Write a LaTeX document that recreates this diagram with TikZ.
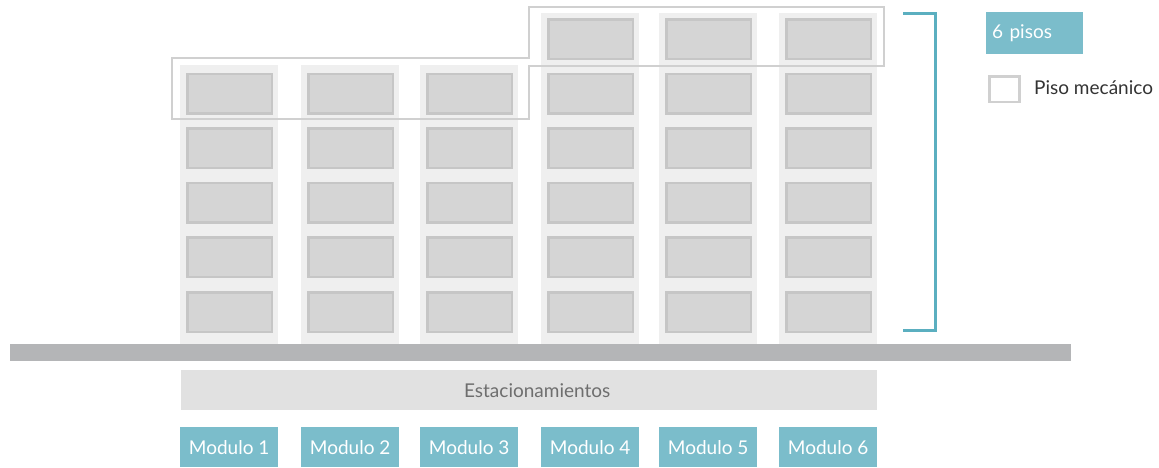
\documentclass[tikz,border=0pt]{standalone}
\usepackage{fontspec}
\setmainfont{Lato}
\definecolor{colbg}{HTML}{EFEFEF}
\definecolor{cellfill}{HTML}{D5D5D5}
\definecolor{cellline}{HTML}{C6C6C6}
\definecolor{mechline}{HTML}{D0D0D0}
\definecolor{ground}{HTML}{B4B5B7}
\definecolor{estac}{HTML}{E1E1E1}
\definecolor{estactext}{HTML}{6E6E6E}
\definecolor{teal}{HTML}{7BBDCB}
\definecolor{bracket}{HTML}{5BAFC0}
\definecolor{legtext}{HTML}{333333}
\begin{document}
\begin{tikzpicture}[x=1pt,y=-1pt,
  txt/.style={font=\fontsize{19}{21}\selectfont},
  colbox/.style={fill=colbg, draw=none, inner sep=0pt, minimum width=98pt, anchor=north west},
  cellbox/.style={fill=cellfill, draw=cellline, line width=2.5pt, inner sep=0pt, minimum width=84.5pt, minimum height=39.5pt},
  modbox/.style={txt, fill=teal, text=white, inner sep=0pt, minimum width=98pt, minimum height=40pt, anchor=north west},
  estbox/.style={txt, fill=estac, text=estactext, inner sep=0pt, minimum width=696pt, minimum height=40pt, anchor=north west},
  legbox/.style={txt, fill=teal, text=white, inner xsep=6pt, inner ysep=0pt, text width=85pt, align=left, minimum height=42pt, anchor=north west},
  mechsq/.style={draw=mechline, line width=2.5pt, inner sep=0pt, minimum width=30pt, minimum height=25.5pt, anchor=north west},
  legtxt/.style={txt, text=legtext, inner sep=0pt, anchor=west},
  mechoutline/.style={draw=mechline, line width=2pt},
  bracketline/.style={draw=bracket, line width=3pt}
]
\useasboundingbox (0,0) rectangle (1159,467);
% ground
\node[fill=ground, inner sep=0pt, minimum width=1061pt, minimum height=17pt, anchor=north west] (ground) at (10,344) {};
% columns
\foreach \i/\x in {1/180,2/301,3/420}{
  \node[colbox, minimum height=279pt] (col\i) at (\x,65) {};
}
\foreach \i/\x in {4/541,5/659,6/779}{
  \node[colbox, minimum height=331pt] (col\i) at (\x,13) {};
}
% cells
\foreach \i/\x in {1/180,2/301,3/420,4/541,5/659,6/779}{
  \foreach \r/\y in {2/72.6,3/127.2,4/181.8,5/236.4,6/291}{
    \node[cellbox] (cell\i\r) at (\x+49.5,\y+21) {};
  }
}
\foreach \i/\x in {4/541,5/659,6/779}{
  \node[cellbox] (cell\i1) at (\x+49.5,18+21) {};
}
% mechanical floor outline
\path[mechoutline] (172,58) -- (529,58) -- (529,7) -- (884,7) -- (884,65.5) -- (529,65.5) -- (529,119) -- (172,119) -- cycle;
% bracket
\coordinate (bt) at (903,13);
\coordinate (bb) at (903,330);
\draw[bracketline] (bt) -- (935,13) -- (935,330) -- (bb);
% legend
\node[legbox] (leg6) at (986,12) {6 pisos};
\node[mechsq] (legsq) at (988,75) {};
\node[legtxt] (legmech) at (1034,88) {Piso mecánico};
% estacionamientos
\node[estbox] (est) at (181,370) {\hspace*{16pt}Estacionamientos};
% modulos
\foreach \i/\x in {1/180,2/301,3/420,4/541,5/659,6/779}{
  \node[modbox] (mod\i) at (\x,427) {Modulo \i};
}
\end{tikzpicture}
\end{document}
